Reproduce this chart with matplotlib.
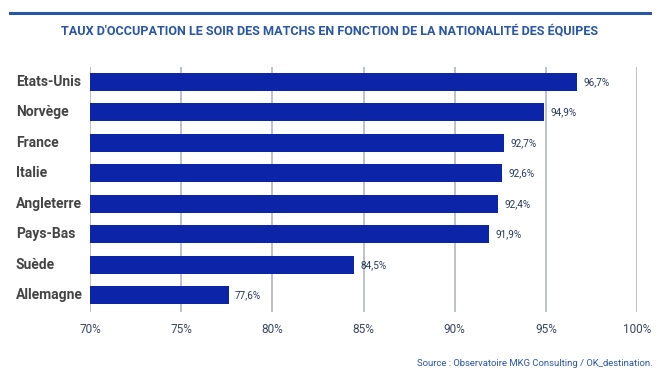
import matplotlib.pyplot as plt
from matplotlib import font_manager
from matplotlib.lines import Line2D

# ---------- DATA ----------
countries = ["Etats-Unis", "Norvège", "France", "Italie",
             "Angleterre", "Pays-Bas", "Suède", "Allemagne"]
occupation = [96.7, 94.9, 92.7, 92.6, 92.4, 91.9, 84.5, 77.6]
ticks = [70, 75, 80, 85, 90, 95, 100]

names = {f.name for f in font_manager.fontManager.ttflist}
narrow = "Liberation Sans Narrow" if "Liberation Sans Narrow" in names else "Roboto"

BLUE_BAR = "#0c24a8"
BLUE_TXT = "#2b56a3"

fig = plt.figure(figsize=(6.59, 3.83), dpi=100)
ax = fig.add_axes([0.1366, 0.185, 0.830, 0.641])

ypos = list(range(len(countries)))
ax.barh(ypos, [v - 70 for v in occupation], left=70, height=0.59,
        color=BLUE_BAR, zorder=3)

for y, v in zip(ypos, occupation):
    ax.text(v + 0.35, y, f"{v:.1f}%".replace(".", ","), va="center", ha="left",
            fontsize=7.2, color="#27385e", family=narrow, zorder=4)

ax.set_xlim(70, 100)
ax.set_ylim(7.55, -0.5)
ax.set_xticks(ticks)
ax.set_xticklabels([f"{t}%" for t in ticks], family=narrow, fontsize=8.5,
                   color="#3a4660")
ax.tick_params(axis="x", length=0, pad=8)
ax.set_yticks([])
ax.grid(axis="x", color="#b9bcc4", linewidth=1.3, zorder=0)
for s in ax.spines.values():
    s.set_visible(False)

# country labels, left aligned at the figure edge
for y, c in zip(ypos, countries):
    disp = ax.transData.transform((70, y))
    fy = fig.transFigure.inverted().transform(disp)[1]
    fig.text(16 / 659, fy, c, ha="left", va="center", fontsize=10,
             fontweight="bold", color="#444444", family=narrow)

# top rule and title
fig.add_artist(Line2D([10 / 659, 650 / 659], [1 - 13 / 383, 1 - 13 / 383],
                      color="#2a56a6", linewidth=2.2))
fig.text(0.5, 1 - 31 / 383,
         "TAUX D'OCCUPATION LE SOIR DES MATCHS EN FONCTION DE LA NATIONALITÉ DES ÉQUIPES",
         ha="center", va="center", fontsize=9.1, fontweight="bold",
         color=BLUE_TXT, family=narrow)

fig.text(653 / 659, 1 - 364 / 383,
         "Source : Observatoire MKG Consulting / OK_destination.",
         ha="right", va="center", fontsize=6.8, color=BLUE_TXT, family=narrow)

fig.savefig("out.png", dpi=100, facecolor="white")
